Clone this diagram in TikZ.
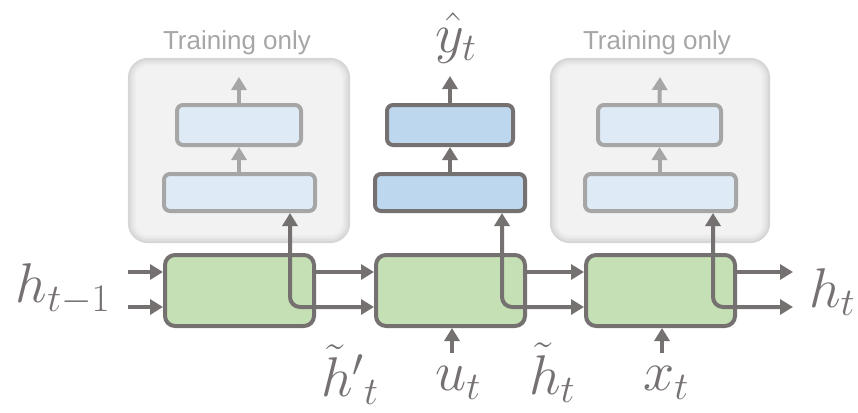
\RequirePackage{fix-cm}
\documentclass[tikz,border=0pt]{standalone}
\usepackage{fontspec}
\newfontfamily\arial{Liberation Sans}
\usetikzlibrary{arrows.meta}
\definecolor{dgray}{HTML}{767171}
\definecolor{lgray}{HTML}{A6A6A6}
\definecolor{cellgreen}{HTML}{C5E0B4}
\definecolor{bluedark}{HTML}{BDD7EE}
\definecolor{bluelight}{HTML}{DEEBF7}
\definecolor{panelfill}{HTML}{F2F2F2}
\begin{document}
\begin{tikzpicture}[x=1pt,y=-1pt,
  panelbox/.style={fill=panelfill, rounded corners=20pt, inner sep=0pt},
  cell/.style={draw=dgray, fill=cellgreen, line width=4pt, rounded corners=10pt, minimum width=149pt, minimum height=71pt, inner sep=0pt},
  layerlight/.style={draw=lgray, fill=bluelight, line width=4pt, rounded corners=6pt, inner sep=0pt},
  layerdark/.style={draw=dgray, fill=bluedark, line width=4pt, rounded corners=6pt, inner sep=0pt},
  arr/.style={draw=dgray, line width=4pt, -{Triangle[length=13pt,width=15pt]}},
  arrl/.style={arr, draw=lgray},
  both/.style={draw=dgray, line width=4pt, {Triangle[length=13pt,width=15pt]}-{Triangle[length=13pt,width=15pt]}, rounded corners=10pt},
  lab/.style={text=dgray, inner sep=0pt, font=\fontsize{56}{64}\selectfont},
  trn/.style={text=lgray, inner sep=0pt, font=\arial\fontsize{26}{30}\selectfont}
]
\useasboundingbox (0,0) rectangle (858,412);

% panels
\node[panelbox, minimum width=222pt, minimum height=185pt] (pl) at (239,150.5) {};
\node[panelbox, minimum width=220pt, minimum height=185pt] (pr) at (660,150.5) {};
\foreach \p in {pl,pr}{
  \begin{scope}
    \clip[rounded corners=20pt] (\p.north west) rectangle (\p.south east);
    \foreach \w/\o in {16/0.02,12/0.025,8/0.03,4/0.04}
      \draw[black, opacity=\o, line width=\w pt, rounded corners=20pt] (\p.north west) rectangle (\p.south east);
  \end{scope}
}
\node[trn] (tl) at (237,43) {Training only};
\node[trn] (tr) at (657,43) {Training only};

% inner layers
\node[layerlight, minimum width=124pt, minimum height=40pt] (lt) at (239,125) {};
\node[layerlight, minimum width=151pt, minimum height=37pt] (lb) at (239.5,192.5) {};
\node[layerdark, minimum width=126pt, minimum height=40pt] (mt) at (450,125) {};
\node[layerdark, minimum width=150pt, minimum height=37pt] (mb) at (450,192.5) {};
\node[layerlight, minimum width=123pt, minimum height=40pt] (rt) at (659.5,125) {};
\node[layerlight, minimum width=151pt, minimum height=37pt] (rb) at (660.5,192.5) {};

\coordinate (lo) at (239,77);
\coordinate (mo) at (450,76);
\coordinate (ro) at (660,77);
\draw[arrl] (lb.north -| lt.south) -- (lt.south);
\draw[arrl] (lt.north) -- (lo);
\draw[arr] (mb.north -| mt.south) -- (mt.south);
\draw[arr] (mt.north) -- (mo);
\draw[arrl] (rb.north -| rt.south) -- (rt.south);
\draw[arrl] (rt.north) -- (ro);

% cells
\node[cell] (c1) at (239.5,290.5) {};
\node[cell] (c2) at (450.5,290.5) {};
\node[cell] (c3) at (660.5,290.5) {};

\coordinate (rowA) at (0,272);
\coordinate (rowB) at (0,307);
\coordinate (inA) at (128,272);
\coordinate (inB) at (128,307);
\coordinate (outA) at (793,272);
\coordinate (outB) at (793,307);
\coordinate (k1) at (290,0);
\coordinate (k2) at (502,0);
\coordinate (k3) at (713,0);
\coordinate (uin) at (452,353);
\coordinate (xin) at (662,353);

\draw[arr] (inA) -- (inA -| c1.west);
\draw[arr] (inB) -- (inB -| c1.west);
\draw[arr] (c1.east |- rowA) -- (c2.west |- rowA);
\draw[arr] (c2.east |- rowA) -- (c3.west |- rowA);
\draw[arr] (c3.east |- rowA) -- (outA);
\draw[both] (lb.south -| k1) |- (c2.west |- rowB);
\draw[both] (mb.south -| k2) |- (c3.west |- rowB);
\draw[both] (rb.south -| k3) |- (outB);
\draw[arr] (uin) -- (uin |- c2.south);
\draw[arr] (xin) -- (xin |- c3.south);

% labels
\node[lab] (yh) at (456,38) {$\hat{y}_t$};
\node[lab] (hp) at (63,289) {$h_{t-1}$};
\node[lab] (ht) at (832,292) {$h_t$};
\node[lab] (hpr) at (350,375) {$\tilde{h}'{}_t$};
\node[lab] (ut) at (458,383) {$u_t$};
\node[lab] (htl) at (552,373) {$\tilde{h}_t$};
\node[lab] (xt) at (666,383) {$x_t$};
\end{tikzpicture}
\end{document}
